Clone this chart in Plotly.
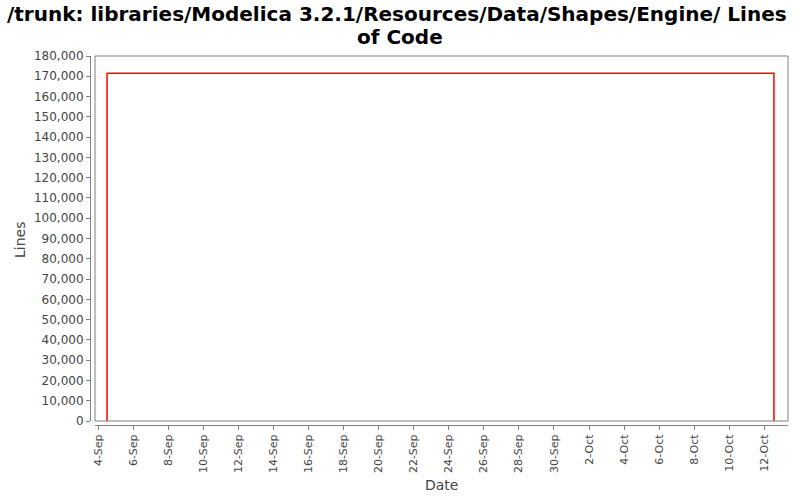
import plotly.graph_objects as go

# Data
dates = ["2013-09-04 12:00", "2013-09-04 12:00", "2013-10-12 13:15", "2013-10-12 13:15"]
lines = [0, 171500, 171500, 0]

title_line1 = "/trunk: libraries/Modelica 3.2.1/Resources/Data/Shapes/Engine/ Lines"
title_line2 = "of Code"
x_range = ["2013-09-03 19:30", "2013-10-13 08:30"]
y_range = [0, 180000]

W, H = 800, 500
ml, mr, mt, mb = 90, 12, 56, 75
pw, ph = W - ml - mr, H - mt - mb
xd0 = 5 / pw
yd0 = 4 / ph

def px_x(p):
    return (p - ml) / pw

def px_y(p):
    return (H - mb - p) / ph

fig = go.Figure()
fig.add_trace(go.Scatter(x=dates, y=lines, mode="lines",
                         line=dict(color="#ff0000", width=1.5), hoverinfo="skip",
                         showlegend=False))

ytick_font = dict(family="DejaVu Sans", size=12, color="#444444")
xtick_font = dict(family="DejaVu Sans", size=11, color="#444444")
lab_font = dict(family="DejaVu Sans", size=14, color="#444444")
title_font = dict(family="DejaVu Sans", size=20, color="black")
fig.update_layout(
    width=W, height=H,
    margin=dict(l=ml, r=mr, t=mt, b=mb, autoexpand=False),
    paper_bgcolor="white", plot_bgcolor="white",
    xaxis=dict(type="date", range=x_range, domain=[xd0, 1], anchor="free", position=0,
               automargin=False,
               showgrid=False, zeroline=False, showline=True, linecolor="#808080", linewidth=1,
               ticks="outside", ticklen=4, tickcolor="#808080",
               tick0="2013-09-04", dtick=2 * 86400000, tickformat="%-d-%b",
               tickangle=-90, tickfont=xtick_font),
    yaxis=dict(range=y_range, domain=[yd0, 1], anchor="free", position=0,
               automargin=False,
               showgrid=False, zeroline=False, showline=True, linecolor="#808080", linewidth=1,
               ticks="outside", ticklen=4, tickcolor="#808080",
               dtick=10000, tickformat=",d", tickfont=ytick_font),
    shapes=[dict(type="rect", xref="paper", yref="paper", x0=xd0, x1=1, y0=yd0, y1=1,
                 line=dict(color="#808080", width=1), fillcolor="rgba(0,0,0,0)", layer="above")],
    annotations=[
        dict(text="<b>" + title_line1 + "</b>", xref="paper", yref="paper",
             x=px_x(397), y=px_y(14), xanchor="center", yanchor="middle", showarrow=False,
             font=title_font),
        dict(text="<b>" + title_line2 + "</b>", xref="paper", yref="paper",
             x=px_x(400), y=px_y(37), xanchor="center", yanchor="middle", showarrow=False,
             font=title_font),
        dict(text="Date", xref="paper", yref="paper", x=px_x(441), y=px_y(485),
             xanchor="center", yanchor="middle", showarrow=False, font=lab_font),
        dict(text="Lines", xref="paper", yref="paper", x=px_x(20), y=px_y(240),
             xanchor="center", yanchor="middle", showarrow=False, textangle=-90, font=lab_font),
    ],
)

fig.write_html("out.html", config={"displayModeBar": False},
               post_script="document.body.style.margin='0';")
